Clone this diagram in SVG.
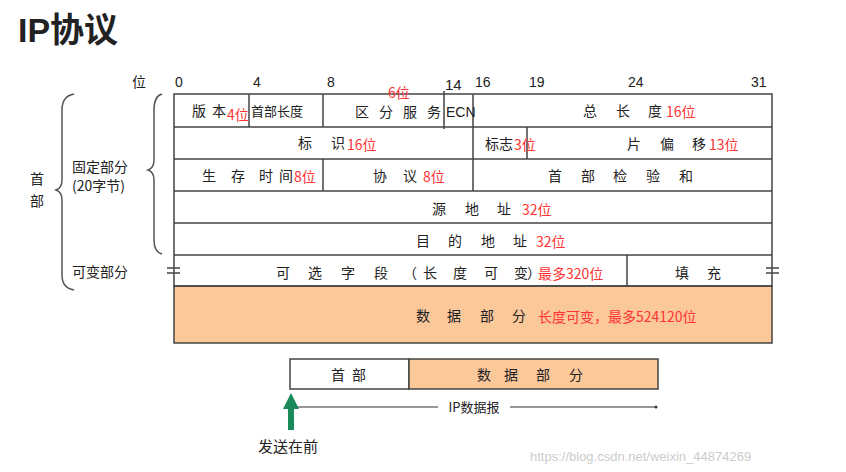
<svg xmlns="http://www.w3.org/2000/svg" width="846" height="472" viewBox="0 0 846 472">
<style>
text{font-family:"Noto Sans CJK SC","Liberation Sans",sans-serif;font-size:14px;fill:#222;white-space:pre}
.r{fill:#ff3333}
.n{font-family:"Liberation Sans",sans-serif;font-size:14px}
.b{fill:none;stroke:#444;stroke-width:1.5}
.l{stroke:#444;stroke-width:1.5}
.m{text-anchor:middle}
</style>
<rect width="846" height="472" fill="#fff"/>
<text x="18" y="42" style="font-size:34px;font-weight:bold;font-family:'Liberation Sans','Noto Sans CJK SC',sans-serif" fill="#333">IP协议</text>
<g id="bits" class="n">
<text x="132" y="87" style="font-size:14px">位</text>
<text x="175" y="87" class="n">0</text><text x="253" y="87" class="n">4</text><text x="327" y="87" class="n">8</text>
<text x="445" y="90" class="n" style="font-size:15px">14</text><text x="475" y="87" class="n">16</text>
<text x="529" y="87" class="n">19</text><text x="628" y="87" class="n">24</text><text x="751" y="87" class="n">31</text>
</g>
<g id="braces" fill="none" stroke="#555" stroke-width="1.5">
<path d="M74 94 Q62 96 62 110 L62 180 Q62 188 56 190 Q62 192 62 200 L62 275 Q62 288 74 290"/>
<path d="M162 94 Q154 96 154 110 L154 160 Q154 168 148 170 Q154 172 154 180 L154 240 Q154 252 162 254"/>
</g>
<g id="labels">
<text x="30" y="184">首</text><text x="30" y="206">部</text>
<text x="72" y="172">固定部分</text><text x="72" y="191">(20字节)</text>
<text x="72" y="277">可变部分</text>
</g>
<g id="table">
<rect x="174" y="286" width="598" height="57" fill="#fbc89a" stroke="#444" stroke-width="1.5"/>
<rect x="174" y="94" width="598" height="192" class="b"/>
<path class="l" d="M174 127H772M174 159H772M174 191H772M174 223H772M174 255H772"/>
<path class="l" d="M249 94V127M323 94V127M444 91V129M473 94V191M527 127V159M323 159V191M627 255V286"/>
<path class="l" d="M167 268H180M167 273H180M766 268H779M766 273H779"/>
<text x="192 212" y="116">版本</text><text x="227" y="120" class="r">4位</text>
<text x="251" y="116" style="font-size:13px">首部长度</text>
<text x="355 379 403 427" y="117">区分服务</text><text x="388" y="98" class="r">6位</text>
<text x="446" y="117" style="font-family:'Liberation Sans',sans-serif;font-size:14px">ECN</text>
<text x="583 616 648" y="116">总长度</text><text x="666" y="117" class="r">16位</text>
<text x="298 331" y="148">标识</text><text x="347" y="150" class="r">16位</text>
<text x="485" y="149">标志</text><text x="514" y="150" class="r">3位</text>
<text x="627 660 692" y="149">片偏移</text><text x="709" y="150" class="r">13位</text>
<text x="202 231 259 279" y="181">生存时间</text><text x="294" y="182" class="r">8位</text>
<text x="373 403" y="181">协议</text><text x="423" y="182" class="r">8位</text>
<text x="548 581 613 646 679" y="181">首部检验和</text>
<text x="432 465 497" y="214">源地址</text><text x="522" y="215" class="r">32位</text>
<text x="416 448 481 513" y="246">目的地址</text><text x="536" y="247" class="r">32位</text>
<text x="276 308 341 374 403 423 453 484 514 527" y="278">可选字段（长度可变）</text><text x="538" y="279" class="r">最多320位</text>
<text x="675 707" y="278">填充</text>
<text x="416 447 480 512" y="321">数据部分</text><text x="538" y="322" class="r">长度可变，最多524120位</text>
</g>
<g id="datagram">
<rect x="290" y="359" width="119" height="30" fill="#fff" stroke="#444" stroke-width="1.5"/>
<rect x="409" y="359" width="249" height="30" fill="#fbc89a" stroke="#444" stroke-width="1.5"/>
<text x="331 352" y="380">首部</text>
<text x="477 504 536 569" y="380">数据部分</text>
</g>
<g id="connectors">
<path d="M292 407H438M510 407H656" stroke="#333" stroke-width="1"/>
<circle cx="656" cy="407" r="1.5" fill="#333"/>
<text x="474" y="412" class="m" style="font-size:13px">IP数据报</text>
<path d="M291 393 L299 409 L294 409 L294 430 L288 430 L288 409 L283 409 Z" fill="#1a8a5a"/>
</g>
<text x="258" y="452" style="font-size:15px">发送在前</text>
<text x="530" y="461" style="font-family:'Liberation Sans',sans-serif;font-size:13px;fill:#ccc">https://blog.csdn.net/weixin_44874269</text>
</svg>
